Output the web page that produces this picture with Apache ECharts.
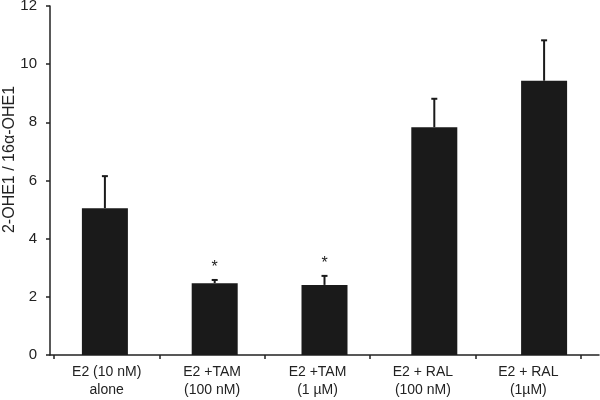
<!DOCTYPE html>
<html><head><meta charset="utf-8">
<script src="https://cdn.jsdelivr.net/npm/echarts@6/dist/echarts.min.js"></script>
<style>html,body{margin:0;padding:0;background:#fff}#c{width:600px;height:400px}</style>
</head><body><div id="c"></div>
<script>
const categories = ['E2 (10 nM)\nalone', 'E2 +TAM\n(100 nM)', 'E2 +TAM\n(1 µM)', 'E2 + RAL\n(100 nM)', 'E2 + RAL\n(1µM)'];
const means = [5.05, 2.47, 2.41, 7.83, 9.43];
const errUpper = [6.15, 2.58, 2.72, 8.81, 10.82];
const marks = ['', '*', '*', '', ''];
const yTicks = [0, 2, 4, 6, 8, 10, 12];

const chart = echarts.init(document.getElementById('c'), null, {renderer: 'canvas'});
const font = 'Liberation Sans, Arial, sans-serif';
chart.setOption({
  animation: false,
  grid: [
    {left: 50, right: 1, top: 6, bottom: 45, containLabel: false, outerBoundsMode: 'none'},
    {left: 54, right: 19, top: 6, bottom: 45, containLabel: false, outerBoundsMode: 'none'}
  ],
  xAxis: [
    {type: 'category', gridIndex: 0, data: categories,
     axisLine: {lineStyle: {color: '#222', width: 1.5}},
     axisTick: {show: false}, axisLabel: {show: false}},
    {type: 'category', gridIndex: 1, data: categories, position: 'bottom',
     axisLine: {show: false},
     axisTick: {show: true, length: 4, lineStyle: {color: '#222', width: 1.5}},
     axisLabel: {color: '#222', fontFamily: font, fontSize: 14, lineHeight: 18, margin: 8}}
  ],
  yAxis: [
    {type: 'value', gridIndex: 0, min: yTicks[0], max: yTicks[yTicks.length - 1], interval: 2,
     name: '2-OHE1 / 16α-OHE1', nameLocation: 'middle', nameGap: 32, nameMoveOverlap: false,
     nameTextStyle: {color: '#222', fontFamily: font, fontSize: 16, padding: [0, 0, 0, 42]},
     axisLine: {show: true, lineStyle: {color: '#222', width: 1.5}},
     axisTick: {show: true, length: 4, lineStyle: {color: '#222', width: 1.5}},
     axisLabel: {color: '#222', fontFamily: font, fontSize: 15, margin: 13},
     splitLine: {show: false}},
    {type: 'value', gridIndex: 1, min: 0, max: 12, show: false}
  ],
  series: [
    {type: 'bar', xAxisIndex: 0, yAxisIndex: 0, data: means, barWidth: 46,
     itemStyle: {color: '#1a1a1a'}},
    {type: 'custom', xAxisIndex: 0, yAxisIndex: 0,
     data: means.map((m, i) => [i, m, errUpper[i]]),
     renderItem: function (params, api) {
       const i = api.value(0);
       const base = api.coord([i, api.value(1)]);
       const top = api.coord([i, api.value(2)]);
       const children = [
         {type: 'line', shape: {x1: base[0], y1: base[1], x2: top[0], y2: top[1]},
          style: {stroke: '#1a1a1a', lineWidth: 2}},
         {type: 'line', shape: {x1: top[0] - 3, y1: top[1], x2: top[0] + 3, y2: top[1]},
          style: {stroke: '#1a1a1a', lineWidth: 2}}
       ];
       if (marks[i]) {
         children.push({type: 'text', style: {text: marks[i], x: top[0], y: top[1] - 4,
           textAlign: 'center', textVerticalAlign: 'bottom', fill: '#222', font: '16px ' + font}});
       }
       return {type: 'group', children: children};
     }}
  ]
});
</script></body></html>
